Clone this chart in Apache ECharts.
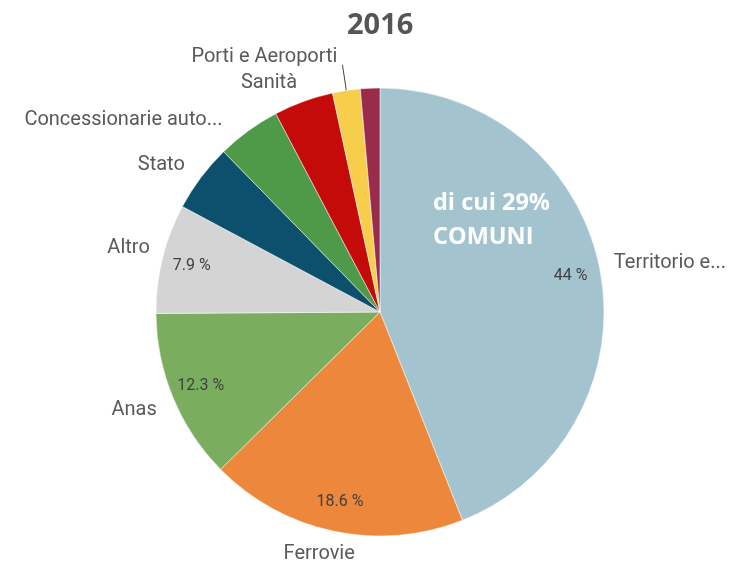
<!DOCTYPE html>
<html>
<head>
<meta charset="utf-8">
<script src="https://cdn.jsdelivr.net/npm/echarts@6/dist/echarts.min.js"></script>
<style>
  html, body { margin: 0; padding: 0; background: #fff; }
  #chart { width: 733px; height: 565px; }
</style>
</head>
<body>
<div id="chart"></div>
<script>
// categories and shares (%)
const categories = ['Territorio e...', 'Ferrovie', 'Anas', 'Altro', 'Stato', 'Concessionarie auto...', 'Sanità', 'Porti e Aeroporti', 'n.d.']
const shares = [44, 18.6, 12.3, 7.9, 4.9, 4.6, 4.3, 2.0, 1.4]
const colors = ['#a3c4cf', '#ed873b', '#7aad5e', '#d4d4d4', '#0d506e', '#4e9a48', '#c50a0a', '#f7cd4c', '#9a2b4a']
const showPct = [true, true, true, true, false, false, false, false, false]
const showName = [true, true, true, true, true, true, true, true, false]
// small nudges of the name labels, as Qlik places them
const labelNudge = [[-1, -5], [28, 13], [-2, 8], [2, -8], [-3, -7], [-15, -3], [2, -9], [0, 0], [0, 0]]

const el = document.getElementById('chart')
const chart = echarts.init(el)

const outerData = categories.map((name, i) => ({
  name,
  value: shares[i],
  itemStyle: { color: colors[i] },
  label: { show: showName[i] },
  labelLine: i === 7 ? { show: true, length: 26, length2: 0 } : { show: false }
}))

const ringData = categories.map((name, i) => ({
  name,
  value: shares[i],
  label: { show: showPct[i] }
}))

const option = {
  animation: false,
  title: {
    text: '2016',
    left: 342,
    top: 6,
    textStyle: { fontFamily: 'Open Sans', fontWeight: 'bold', fontSize: 29, color: '#555' }
  },
  graphic: [
    {
      type: 'text',
      left: 433,
      top: 186,
      z: 100,
      style: {
        text: 'di cui 29%\nCOMUNI',
        fill: '#fff',
        font: 'bold 23.5px "Open Sans"',
        lineHeight: 34
      }
    }
  ],
  series: [
    {
      type: 'pie',
      center: [380, 312],
      radius: [0, 224],
      startAngle: 90,
      clockwise: true,
      avoidLabelOverlap: false,
      itemStyle: { borderColor: '#fff', borderWidth: 0.5 },
      label: {
        position: 'outside',
        fontFamily: 'Roboto',
        fontSize: 20,
        color: '#595959',
        distanceToLabelLine: 5,
        formatter: '{b}'
      },
      labelLine: { length: 10, length2: 0, lineStyle: { color: '#444', width: 1 } },
      labelLayout: (p) => {
        const n = labelNudge[p.dataIndex]
        if (p.dataIndex === 7) return { verticalAlign: 'bottom', dy: 2 }
        return { dx: n[0], dy: n[1] }
      },
      data: outerData,
      z: 1
    },
    {
      // transparent ring so the percent labels sit near the rim
      type: 'pie',
      center: [380, 312],
      radius: [158, 224],
      startAngle: 90,
      clockwise: true,
      silent: true,
      itemStyle: { color: 'rgba(0,0,0,0)' },
      label: {
        position: 'inside',
        fontFamily: 'Roboto',
        fontSize: 16,
        color: '#404040',
        formatter: (p) => p.value + ' %'
      },
      labelLine: { show: false },
      data: ringData,
      z: 2
    }
  ]
}

chart.setOption(option)
</script>
</body>
</html>
